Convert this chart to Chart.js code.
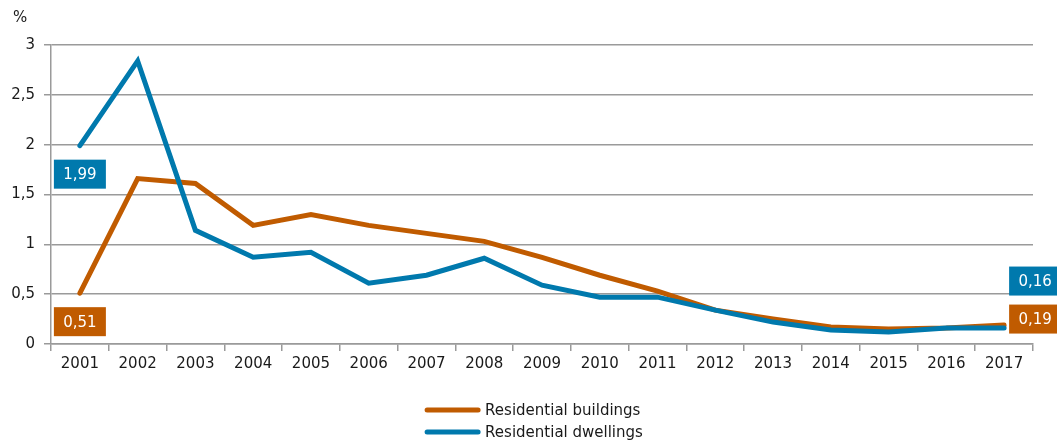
<!DOCTYPE html>
<html>
<head>
<meta charset="utf-8">
<script src="https://cdn.jsdelivr.net/npm/chart.js@4"></script>
<style>
  html, body { margin: 0; padding: 0; background: #fff; }
  #wrap { width: 1057px; height: 441px; position: relative; }
</style>
</head>
<body>
<div id="wrap"><canvas id="grafico"></canvas></div>
<script>
const anos = ['2001','2002','2003','2004','2005','2006','2007','2008','2009','2010','2011','2012','2013','2014','2015','2016','2017'];
const edificios = [0.51, 1.66, 1.61, 1.19, 1.30, 1.19, 1.11, 1.03, 0.87, 0.69, 0.53, 0.34, 0.25, 0.17, 0.15, 0.16, 0.19];
const habitacoes = [1.99, 2.84, 1.14, 0.87, 0.92, 0.61, 0.69, 0.86, 0.59, 0.47, 0.47, 0.34, 0.22, 0.14, 0.12, 0.16, 0.16];
const nomes = ['Residential buildings', 'Residential dwellings'];
const yTicks = [0, 0.5, 1, 1.5, 2, 2.5, 3];

const LARANJA = '#C05B00';
const AZUL = '#0079AD';
const CINZA = '#9a9a9a';
const FONTE = '"DejaVu Sans", sans-serif';

const fmt = v => String(v).replace('.', ',');

// caixas com os valores do primeiro e do último ano + legenda + unidade
const rotulos = {
  id: 'rotulos',
  afterDraw(chart) {
    const c = chart.ctx;
    const area = chart.chartArea;
    c.save();
    c.font = '15px ' + FONTE;
    c.textAlign = 'center';
    c.textBaseline = 'middle';

    function caixa(x, yc, cor, txt) {
      c.fillStyle = cor;
      c.fillRect(x, yc - 14.5, 52, 29);
      c.fillStyle = '#fff';
      c.fillText(txt, x + 26, yc + 1);
    }

    const series = [
      { dados: edificios, cor: LARANJA, idx: 0, dyFim: -6 },
      { dados: habitacoes, cor: AZUL, idx: 1, dyFim: -47 }
    ];
    series.forEach(s => {
      const meta = chart.getDatasetMeta(s.idx);
      const p0 = meta.data[0];
      caixa(p0.x - 26, p0.y + 28.5, s.cor, fmt(s.dados[0]));
      const pn = meta.data[meta.data.length - 1];
      caixa(pn.x + 5, pn.y + s.dyFim, s.cor, fmt(s.dados[s.dados.length - 1]));
    });

    // unidade
    c.fillStyle = '#1a1a1a';
    c.textAlign = 'left';
    c.fillText('%', 13, 18);

    // legenda
    const cx = (area.left + area.right) / 2;
    const larg = 60 + c.measureText(nomes[1]).width;
    const x0 = cx - larg / 2 - 8;
    [LARANJA, AZUL].forEach((cor, i) => {
      const ly = 410 + i * 22;
      c.strokeStyle = cor;
      c.lineWidth = 5;
      c.lineCap = 'round';
      c.beginPath();
      c.moveTo(x0 + 2, ly);
      c.lineTo(x0 + 53, ly);
      c.stroke();
      c.fillStyle = '#1a1a1a';
      c.fillText(nomes[i], x0 + 60, ly + 1);
    });
    c.restore();
  }
};

new Chart(document.getElementById('grafico'), {
  type: 'line',
  data: {
    labels: anos,
    datasets: [
      { label: nomes[0], data: edificios, borderColor: LARANJA, backgroundColor: LARANJA, borderWidth: 5, pointRadius: 0, tension: 0, order: 2, borderCapStyle: 'round' },
      { label: nomes[1], data: habitacoes, borderColor: AZUL, backgroundColor: AZUL, borderWidth: 5, pointRadius: 0, tension: 0, order: 1, borderCapStyle: 'round' }
    ]
  },
  options: {
    responsive: true,
    maintainAspectRatio: false,
    animation: false,
    layout: { padding: { top: 45, right: 24, bottom: 61, left: 0 } },
    plugins: {
      legend: { display: false },
      tooltip: { enabled: false }
    },
    scales: {
      x: {
        offset: true,
        grid: { offset: true, drawOnChartArea: false, drawTicks: true, tickLength: 7, color: CINZA, lineWidth: 1.5 },
        border: { color: CINZA, width: 1.5 },
        ticks: { color: '#1a1a1a', font: { family: FONTE, size: 15 }, padding: 4, maxRotation: 0, autoSkip: false },
        afterFit: s => { s.height = 36; }
      },
      y: {
        min: 0,
        max: 3,
        afterBuildTicks: s => { s.ticks = yTicks.map(v => ({ value: v })); },
        grid: { color: CINZA, lineWidth: 1.5, tickLength: 7 },
        border: { color: CINZA, width: 1.5 },
        ticks: { color: '#1a1a1a', font: { family: FONTE, size: 15 }, padding: 9, callback: v => fmt(v) },
        afterFit: s => { s.width = 51; }
      }
    }
  },
  plugins: [rotulos]
});
</script>
</body>
</html>
